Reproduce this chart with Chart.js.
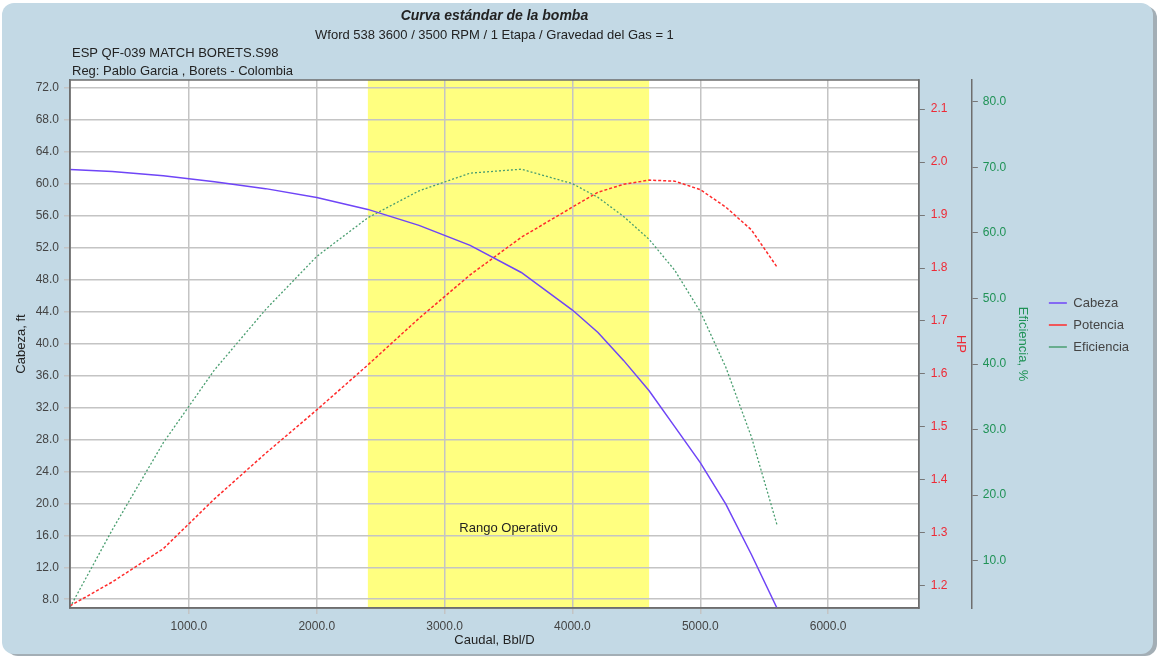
<!DOCTYPE html>
<html>
<head>
<meta charset="utf-8">
<title>Curva estándar de la bomba</title>
<script src="https://cdn.jsdelivr.net/npm/chart.js@4.4.0/dist/chart.umd.min.js"></script>
<style>
  html, body { margin: 0; padding: 0; background: #fff; }
  #wrap { width: 1157px; height: 658px; }
</style>
</head>
<body>
<div id="wrap"><canvas id="pumpChart" width="1157" height="658"></canvas></div>
<script>
// caudal (Bbl/D) y las tres curvas
const caudal     = [70, 400, 800, 1200, 1600, 2000, 2400, 2800, 3200, 3600, 4000, 4200, 4400, 4600, 4800, 5000, 5200, 5400, 5600];
const cabeza     = [61.8, 61.55, 61.0, 60.25, 59.4, 58.3, 56.8, 54.8, 52.3, 48.9, 44.2, 41.4, 37.9, 34.1, 29.6, 25.1, 19.9, 13.6, 6.9];
const potencia   = [1.162, 1.207, 1.27, 1.364, 1.45, 1.532, 1.617, 1.705, 1.787, 1.858, 1.915, 1.943, 1.958, 1.966, 1.964, 1.948, 1.915, 1.872, 1.802];
const eficiencia = [2.9, 14.7, 28.0, 39.1, 48.3, 56.4, 62.3, 66.4, 69.1, 69.7, 67.5, 65.4, 62.5, 59.0, 54.3, 48.0, 39.5, 28.9, 15.5];

const rangoOperativo = [2400, 4600];

const caudalTicks = [1000, 2000, 3000, 4000, 5000, 6000];
const cabezaTicks = [8, 12, 16, 20, 24, 28, 32, 36, 40, 44, 48, 52, 56, 60, 64, 68, 72];
const hpTicks     = [1.2, 1.3, 1.4, 1.5, 1.6, 1.7, 1.8, 1.9, 2.0, 2.1];
const efTicks     = [10, 20, 30, 40, 50, 60, 70, 80];

const FONT = '"Liberation Sans", Arial, sans-serif';
Chart.defaults.font.family = FONT;
Chart.defaults.font.size = 12;
Chart.defaults.color = '#333';

function pts(ys) {
  return caudal.map((x, i) => ({ x: x, y: ys[i] }));
}
function setTicks(list) {
  return scale => { scale.ticks = list.map(v => ({ value: v })); };
}

const panel = {
  id: 'panel',
  beforeDraw(chart) {
    const { ctx, chartArea: a, scales } = chart;
    ctx.save();
    ctx.fillStyle = '#ffffff';
    ctx.fillRect(0, 0, chart.width, chart.height);
    // sombra y fondo celeste
    ctx.fillStyle = '#a3aeb5';
    ctx.beginPath(); ctx.roundRect(6, 6, chart.width - 6, chart.height - 8, 12); ctx.fill();
    ctx.fillStyle = '#c3d9e5';
    ctx.beginPath(); ctx.roundRect(2, 3, chart.width - 6, chart.height - 7, 12); ctx.fill();
    // area del grafico
    ctx.fillStyle = '#ffffff';
    ctx.fillRect(a.left, a.top, a.width, a.height);
    const x1 = scales.x.getPixelForValue(rangoOperativo[0]);
    const x2 = scales.x.getPixelForValue(rangoOperativo[1]);
    ctx.fillStyle = '#ffff80';
    ctx.fillRect(x1, a.top, x2 - x1, a.height);
    ctx.restore();
  },
  afterDraw(chart) {
    const { ctx, chartArea: a, scales } = chart;
    ctx.save();
    ctx.strokeStyle = '#6e6e6e';
    ctx.lineWidth = 1.5;
    ctx.strokeRect(a.left, a.top, a.width, a.height);
    ctx.fillStyle = '#222';
    ctx.font = '13px ' + FONT;
    ctx.textBaseline = 'middle';
    ctx.textAlign = 'left';
    ctx.fillText('ESP QF-039 MATCH BORETS.S98', a.left + 2, 53);
    ctx.fillText('Reg: Pablo Garcia , Borets - Colombia', a.left + 2, 71);
    const xm = (scales.x.getPixelForValue(rangoOperativo[0]) + scales.x.getPixelForValue(rangoOperativo[1])) / 2;
    ctx.textAlign = 'center';
    ctx.fillText('Rango Operativo', xm, scales.yCab.getPixelForValue(16.8));
    ctx.restore();
  }
};

new Chart(document.getElementById('pumpChart'), {
  type: 'line',
  data: {
    datasets: [{
      label: 'Cabeza',
      data: pts(cabeza),
      yAxisID: 'yCab',
      borderColor: '#6f45f7',
      borderWidth: 1.5
    }, {
      label: 'Potencia',
      data: pts(potencia),
      yAxisID: 'yHp',
      borderColor: '#ff2b2b',
      borderDash: [3, 2],
      borderWidth: 1.5
    }, {
      label: 'Eficiencia',
      data: pts(eficiencia),
      yAxisID: 'yEf',
      borderColor: '#4a9e70',
      borderDash: [2, 2],
      borderWidth: 1.3
    }]
  },
  options: {
    responsive: false,
    animation: false,
    events: [],
    devicePixelRatio: 1,
    layout: { padding: { top: 0, left: 8, right: 18, bottom: 8 } },
    elements: { point: { radius: 0 }, line: { tension: 0, fill: false } },
    plugins: {
      title: {
        display: true,
        fullSize: false,
        text: 'Curva estándar de la bomba',
        color: '#222',
        font: { size: 14, style: 'italic', weight: 'bold' },
        padding: { top: 8, bottom: 2 }
      },
      subtitle: {
        display: true,
        fullSize: false,
        text: 'Wford 538 3600 / 3500 RPM / 1 Etapa / Gravedad del Gas = 1',
        color: '#222',
        font: { size: 13 },
        padding: { top: 1, bottom: 36.6 }
      },
      legend: {
        position: 'right',
        labels: {
          usePointStyle: true,
          pointStyle: 'line',
          pointStyleWidth: 18,
          padding: 9,
          color: '#444',
          font: { size: 13 },
          generateLabels(chart) {
            const items = Chart.defaults.plugins.legend.labels.generateLabels(chart);
            items.forEach(it => { if (it.datasetIndex === 2) it.lineDash = []; });
            return items;
          }
        }
      },
      tooltip: { enabled: false }
    },
    scales: {
      x: {
        type: 'linear',
        min: 70,
        max: 6710,
        afterBuildTicks: setTicks(caudalTicks),
        afterFit: s => { s.height = 42; },
        ticks: { callback: v => v.toFixed(1), color: '#444', padding: 5, maxRotation: 0, autoSkip: false },
        grid: { color: '#c4c4c4', lineWidth: 1.5, tickLength: 6 },
        border: { display: true, color: '#6e6e6e', width: 1.5 },
        title: { display: true, text: 'Caudal, Bbl/D', color: '#222', font: { size: 13 }, padding: { top: 0, bottom: 2 } }
      },
      yCab: {
        type: 'linear',
        position: 'left',
        min: 6.9,
        max: 73.0,
        afterBuildTicks: setTicks(cabezaTicks),
        afterFit: s => { s.width = 62; },
        ticks: { callback: v => v.toFixed(1), color: '#444', padding: 5, autoSkip: false },
        grid: { color: '#c4c4c4', lineWidth: 1.5, tickLength: 6 },
        border: { display: true, color: '#6e6e6e', width: 1.5 },
        title: { display: true, text: 'Cabeza, ft', color: '#222', font: { size: 13 }, padding: { top: 6, bottom: 0 } }
      },
      yHp: {
        type: 'linear',
        position: 'right',
        weight: 0,
        min: 1.158,
        max: 2.155,
        afterBuildTicks: setTicks(hpTicks),
        afterFit: s => { s.width = 53; },
        ticks: { callback: v => v.toFixed(1), color: '#ee2a36', padding: 6, autoSkip: false },
        grid: { drawOnChartArea: false, color: '#777', lineWidth: 1, tickLength: 6 },
        border: { display: true, color: '#6e6e6e', width: 1.5 },
        title: { display: true, text: 'HP', color: '#ee2a36', font: { size: 13 }, padding: { top: 3, bottom: 0 } }
      },
      yEf: {
        type: 'linear',
        position: 'right',
        weight: 1,
        min: 2.8,
        max: 83.3,
        afterBuildTicks: setTicks(efTicks),
        afterFit: s => { s.width = 68; },
        ticks: { callback: v => v.toFixed(1), color: '#1f9256', padding: 5, autoSkip: false },
        grid: { drawOnChartArea: false, color: '#777', lineWidth: 1, tickLength: 6 },
        border: { display: true, color: '#6e6e6e', width: 1.5 },
        title: { display: true, text: 'Eficiencia, %', color: '#1f9256', font: { size: 13 }, padding: { top: 9, bottom: 0 } }
      }
    }
  },
  plugins: [panel]
});
</script>
</body>
</html>
